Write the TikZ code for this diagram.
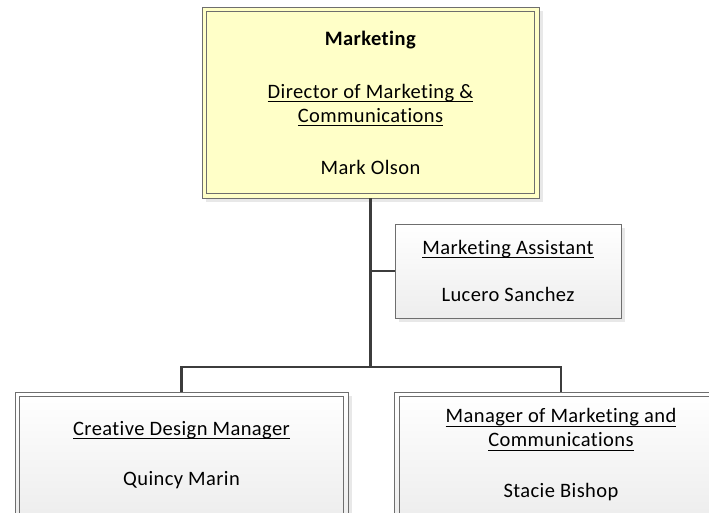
\documentclass[tikz,border=0pt]{standalone}
\usepackage{fontspec}
\setmainfont{Carlito}[Ligatures={NoCommon}, LetterSpace=2]
\usetikzlibrary{shadows}

\definecolor{framegray}{RGB}{110,110,110}
\definecolor{linkgray}{RGB}{60,60,60}
\definecolor{headyellow}{RGB}{255,255,200}

\newcommand{\uln}[1]{\setbox0\hbox{#1}\leavevmode\rlap{\rule[-3.5pt]{\wd0}{0.9pt}}\box0}

\tikzset{
	orgbox/.style={draw=framegray, line width=0.9pt, top color=white, bottom color=black!7,
		drop shadow={opacity=0.18, shadow xshift=4pt, shadow yshift=-4pt},
		align=center, inner sep=0pt, font=\fontsize{20.5}{24}\selectfont},
	headbox/.style={orgbox, top color=headyellow, bottom color=headyellow},
	innerframe/.style={draw=framegray, line width=0.9pt},
	link/.style={draw=linkgray, line width=2.4pt}
}

\begin{document}
\begin{tikzpicture}[x=1pt,y=-1pt]
	\useasboundingbox (0,0) rectangle (709,512);

	\node[headbox, minimum width=337pt, minimum height=191pt] (dir) at (370.5,102.5)
		{\textbf{Marketing}\\[29pt]
		\uln{Director of Marketing \&}\\
		\uln{Communications}\\[28pt]
		Mark Olson};
	\draw[innerframe] ([shift={(5pt,-5pt)}]dir.north west) rectangle ([shift={(-5pt,5pt)}]dir.south east);

	\node[orgbox, minimum width=226pt, minimum height=94pt] (asst) at (508,271)
		{\uln{Marketing Assistant}\\[23pt]
		Lucero Sanchez};

	\node[orgbox, minimum width=333pt, minimum height=126pt] (cdm) at (181.5,455)
		{\uln{Creative Design Manager}\\[26pt]
		Quincy Marin};
	\draw[innerframe] ([shift={(5pt,-5pt)}]cdm.north west) rectangle ([shift={(-5pt,5pt)}]cdm.south east);

	\node[orgbox, minimum width=333pt, minimum height=126pt] (mmc) at (561,455)
		{\uln{Manager of Marketing and}\\
		\uln{Communications}\\[27pt]
		Stacie Bishop};
	\draw[innerframe] ([shift={(5pt,-5pt)}]mmc.north west) rectangle ([shift={(-5pt,5pt)}]mmc.south east);

	% reporting lines
	\coordinate (bus) at (370.5,367);
	\draw[link] (dir.south) -- (bus);
	\draw[link] (dir.south |- asst.west) -- (asst.west);
	\draw[link] (cdm.north) |- (bus) -| (mmc.north);

\end{tikzpicture}
\end{document}
